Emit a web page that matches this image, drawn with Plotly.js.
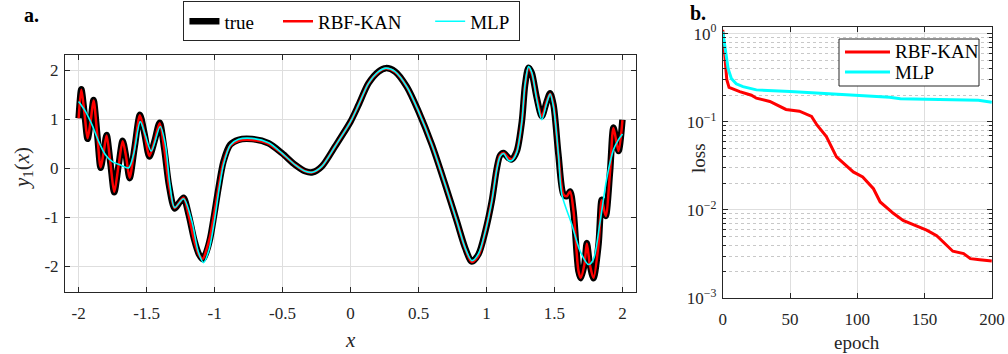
<!DOCTYPE html>
<html>
<head>
<meta charset="utf-8">
<script src="https://cdn.plot.ly/plotly-3.0.1.min.js"></script>
<style>html,body{margin:0;padding:0;background:#fff;}#chart{width:1008px;height:354px;}</style>
</head>
<body>
<div id="chart"></div>
<script>
// ---- panel a: function fit ----
const trueX = [-2.0,-1.98,-1.957,-1.934,-1.912,-1.89,-1.864,-1.838,-1.816,-1.794,-1.766,-1.738,-1.707,-1.676,-1.65,-1.625,-1.587,-1.549,-1.515,-1.48,-1.442,-1.404,-1.37,-1.335,-1.294,-1.26,-1.228,-1.19,-1.15,-1.115,-1.086,-1.06,-1.032,-1.0,-0.971,-0.934,-0.885,-0.824,-0.725,-0.603,-0.505,-0.407,-0.333,-0.28,-0.211,-0.113,0.0,0.059,0.132,0.206,0.26,0.328,0.414,0.5,0.598,0.696,0.782,0.843,0.892,0.941,0.99,1.039,1.076,1.10,1.125,1.162,1.186,1.223,1.26,1.284,1.309,1.333,1.37,1.407,1.443,1.468,1.493,1.529,1.566,1.59,1.615,1.64,1.676,1.693,1.72,1.738,1.76,1.787,1.824,1.848,1.877,1.909,1.934,1.971,2.0];
const trueY = [1.02,1.61,1.12,0.60,0.95,1.39,0.72,0.01,0.32,0.68,0.10,-0.49,0.04,0.56,0.22,-0.20,0.45,1.09,0.70,0.24,0.55,0.93,0.40,-0.35,-0.82,-0.70,-0.60,-0.95,-1.45,-1.75,-1.85,-1.70,-1.42,-0.90,-0.40,0.14,0.48,0.58,0.595,0.51,0.31,0.07,-0.06,-0.08,0.04,0.45,0.95,1.29,1.73,1.97,2.04,1.97,1.66,1.16,0.48,-0.33,-1.08,-1.62,-1.90,-1.75,-1.30,-0.67,0.0,0.26,0.31,0.21,0.18,0.35,0.95,1.70,2.05,1.94,1.43,1.06,1.36,1.53,1.29,0.28,-0.53,-0.57,-0.47,-0.87,-2.09,-2.24,-1.96,-1.52,-1.96,-2.24,-1.55,-0.64,-0.97,-0.06,0.83,0.35,0.99];
const kanY  = [1.02,1.60,1.12,0.61,0.95,1.38,0.72,0.02,0.32,0.67,0.10,-0.48,0.04,0.55,0.22,-0.19,0.45,1.08,0.70,0.25,0.55,0.92,0.40,-0.35,-0.81,-0.70,-0.60,-0.96,-1.47,-1.76,-1.84,-1.66,-1.38,-0.88,-0.40,0.13,0.46,0.56,0.575,0.50,0.30,0.07,-0.06,-0.08,0.04,0.45,0.95,1.29,1.73,1.96,2.03,1.96,1.66,1.16,0.48,-0.33,-1.08,-1.63,-1.91,-1.78,-1.30,-0.66,0.0,0.26,0.31,0.21,0.18,0.35,0.95,1.70,2.04,1.93,1.43,1.06,1.36,1.52,1.29,0.28,-0.53,-0.57,-0.47,-0.87,-2.08,-2.23,-1.96,-1.53,-1.96,-2.23,-1.55,-0.65,-0.97,-0.06,0.82,0.35,0.98];
const mlpX = [-2.0,-1.95,-1.902,-1.853,-1.804,-1.755,-1.694,-1.632,-1.596,-1.547,-1.51,-1.466,-1.40,-1.363,-1.33,-1.294,-1.228,-1.167,-1.12,-1.081,-1.04,-1.0,-0.971,-0.934,-0.885,-0.824,-0.725,-0.603,-0.505,-0.407,-0.333,-0.28,-0.211,-0.113,0.0,0.059,0.132,0.206,0.26,0.328,0.414,0.5,0.598,0.696,0.782,0.843,0.892,0.941,0.99,1.039,1.076,1.10,1.125,1.162,1.186,1.223,1.26,1.284,1.309,1.333,1.37,1.407,1.443,1.468,1.493,1.529,1.554,1.627,1.689,1.75,1.787,1.836,1.885,1.934,1.97,2.0];
const mlpY = [1.36,1.16,0.89,0.55,0.28,0.14,0.07,0.01,0.28,0.95,0.68,0.35,0.85,0.50,-0.30,-0.80,-0.62,-1.08,-1.70,-1.92,-1.65,-1.05,-0.50,0.08,0.47,0.59,0.61,0.52,0.31,0.07,-0.06,-0.08,0.04,0.45,0.95,1.29,1.73,1.97,2.04,1.97,1.66,1.16,0.48,-0.33,-1.08,-1.62,-1.88,-1.74,-1.30,-0.67,-0.02,0.24,0.30,0.16,0.16,0.33,0.95,1.72,2.07,1.95,1.40,0.99,1.33,1.51,1.25,0.28,-0.53,-1.14,-1.69,-1.96,-1.85,-1.08,-0.20,0.38,0.58,0.70];
const xTickVals = [-2,-1.5,-1,-0.5,0,0.5,1,1.5,2];
const xTickText = ['-2','-1.5','-1','-0.5','0','0.5','1','1.5','2'];
const yTickVals = [-2,-1,0,1,2];
const yTickText = ['-2','-1','0','1','2'];

// ---- panel b: training loss ----
const kanEpoch = [0,1,2,3,4.7,12.6,21.3,25,35,42,47,57,66,70,77,84.5,92,97,104,112,117,127,134,144,151.5,159,166,171,179,184,191,200];
const kanLoss  = [1.1,0.7,0.45,0.3,0.245,0.22,0.20,0.185,0.17,0.152,0.138,0.132,0.115,0.092,0.068,0.040,0.032,0.027,0.0237,0.0174,0.0123,0.0091,0.0076,0.0065,0.0059,0.0051,0.0040,0.0034,0.0032,0.0028,0.00272,0.00263];
const mlpEpoch = [0,2,4,6.4,10,15,25,50,75,99,124,132,149,174,190,200];
const mlpLoss  = [1.05,0.6,0.4,0.31,0.27,0.25,0.23,0.22,0.21,0.20,0.19,0.182,0.18,0.177,0.175,0.166];
const logTickVals = [0.001,0.01,0.1,1];
const logTickText = ['10<sup>−3</sup>','10<sup>−2</sup>','10<sup>−1</sup>','10<sup>0</sup>'];
const lossNames = ['RBF-KAN', 'MLP'];
const lossColors = ['#ff0000', '#00ffff'];

const FONT = 'Liberation Serif';
const AX = '#262626';
const GRID = '#dedede';
const NB = '\u00a0';
const W = 1008, H = 354;
const px = v => v / W, py = v => 1 - v / H;

const traces = [
  {x: trueX, y: trueY, name: 'true' + NB.repeat(4), type: 'scatter', mode: 'lines', line: {color: '#000', width: 6.5, shape: 'spline', smoothing: 0.8}, xaxis: 'x', yaxis: 'y'},
  {x: trueX, y: kanY, name: 'RBF-KAN' + NB.repeat(5), type: 'scatter', mode: 'lines', line: {color: '#ff0000', width: 2.5, shape: 'spline', smoothing: 0.8}, xaxis: 'x', yaxis: 'y'},
  {x: mlpX, y: mlpY, name: 'MLP' + NB, type: 'scatter', mode: 'lines', line: {color: '#00ffff', width: 1.6, shape: 'spline', smoothing: 0.8}, xaxis: 'x', yaxis: 'y'},
  {x: kanEpoch, y: kanLoss, name: lossNames[0], type: 'scatter', mode: 'lines', line: {color: lossColors[0], width: 3}, xaxis: 'x2', yaxis: 'y2', showlegend: false},
  {x: mlpEpoch, y: mlpLoss, name: lossNames[1], type: 'scatter', mode: 'lines', line: {color: lossColors[1], width: 3}, xaxis: 'x2', yaxis: 'y2', showlegend: false}
];

const baseAxis = {
  showline: true, linecolor: AX, linewidth: 1, mirror: 'ticks', ticks: 'inside', ticklen: 5, tickcolor: AX,
  showgrid: true, gridcolor: GRID, gridwidth: 1, zeroline: false,
  tickfont: {family: FONT, size: 17, color: '#262626'}
};

// legend box for panel b (drawn as decoration)
const legRows = [52, 72];
const shapes = [
  {type: 'rect', xref: 'paper', yref: 'paper', x0: px(839), x1: px(979), y0: py(86), y1: py(39), line: {color: AX, width: 1}, fillcolor: '#fff', layer: 'above'}
];
const annotations = [
  {text: '<b>a.</b>', x: 0.022, y: 0.995, xref: 'paper', yref: 'paper', xanchor: 'left', yanchor: 'top', showarrow: false, font: {family: FONT, size: 20, color: '#000'}},
  {text: '<b>b.</b>', x: 0.683, y: 1.0, xref: 'paper', yref: 'paper', xanchor: 'left', yanchor: 'top', showarrow: false, font: {family: FONT, size: 20, color: '#000'}},
  {text: '<i>x</i>', x: px(350), y: py(340), xref: 'paper', yref: 'paper', xanchor: 'center', yanchor: 'middle', showarrow: false, font: {family: FONT, size: 21, color: '#262626'}},
  {text: '<i>y</i><sub>1</sub>(<i>x</i>)', x: px(23), y: py(168), xref: 'paper', yref: 'paper', xanchor: 'center', yanchor: 'middle', textangle: -90, showarrow: false, font: {family: FONT, size: 21, color: '#262626'}},
  {text: 'epoch', x: px(857), y: py(342), xref: 'paper', yref: 'paper', xanchor: 'center', yanchor: 'middle', showarrow: false, font: {family: FONT, size: 19, color: '#262626'}},
  {text: 'loss', x: px(698), y: py(158), xref: 'paper', yref: 'paper', xanchor: 'center', yanchor: 'middle', textangle: -90, showarrow: false, font: {family: FONT, size: 19, color: '#262626'}}
];
lossNames.forEach((n, i) => {
  shapes.push({type: 'line', xref: 'paper', yref: 'paper', x0: px(845), x1: px(890), y0: py(legRows[i]), y1: py(legRows[i]), line: {color: lossColors[i], width: 3}, layer: 'above'});
  annotations.push({text: n, x: px(893), y: py(legRows[i]), xref: 'paper', yref: 'paper', xanchor: 'left', yanchor: 'middle', showarrow: false, font: {family: FONT, size: 19, color: '#000'}});
});

const layout = {
  width: W, height: H,
  margin: {l: 0, r: 0, t: 0, b: 0},
  paper_bgcolor: '#fff', plot_bgcolor: '#fff',
  font: {family: FONT, color: '#262626'},
  showlegend: true,
  xaxis: Object.assign({}, baseAxis, {domain: [0.0645, 0.631], range: [-2.1, 2.1], tickmode: 'array', tickvals: xTickVals, ticktext: xTickText, anchor: 'y', ticklabelstandoff: 6}),
  yaxis: Object.assign({}, baseAxis, {domain: [0.175, 0.845], range: [-2.52, 2.31], tickmode: 'array', tickvals: yTickVals, ticktext: yTickText, anchor: 'x', ticklabelstandoff: 2}),
  xaxis2: Object.assign({}, baseAxis, {domain: [0.717, 0.984], range: [0, 200], tickmode: 'array', tickvals: [0,50,100,150,200], anchor: 'y2', ticklabelstandoff: 6}),
  yaxis2: Object.assign({}, baseAxis, {domain: [0.158, 0.9237], type: 'log', range: [-3, 0.075], tickmode: 'array', tickvals: logTickVals, ticktext: logTickText, anchor: 'x2', ticklabelstandoff: 2,
    minor: {dtick: 'D1', ticks: 'inside', ticklen: 3, tickcolor: AX, showgrid: true, gridcolor: '#c8c8c8', griddash: 'dot', gridwidth: 1}}),
  legend: {orientation: 'h', x: 0.182, y: 0.996, xanchor: 'left', yanchor: 'top', bgcolor: '#fff', bordercolor: AX, borderwidth: 1,
    font: {family: FONT, size: 19, color: '#000'}, tracegroupgap: 0},
  shapes: shapes,
  annotations: annotations
};

Plotly.newPlot('chart', traces, layout, {staticPlot: true, displayModeBar: false});
</script>
</body>
</html>
